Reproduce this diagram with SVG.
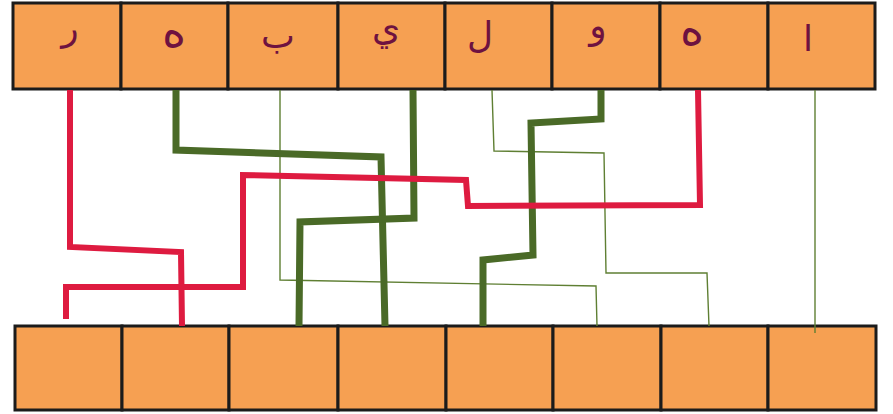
<svg xmlns="http://www.w3.org/2000/svg" width="893" height="414" viewBox="0 0 893 414">
<style>
.box{fill:#F6A052;stroke:#1b1b1b;stroke-width:3}
.lbl{font-family:"DejaVu Sans","Noto Sans",sans-serif;font-size:36px;fill:#6E1240;text-anchor:middle}
.big{font-size:46px}
.red{fill:none;stroke:#DE1B40;stroke-width:6;stroke-linejoin:miter}
.grn{fill:none;stroke:#4A6A27;stroke-width:7;stroke-linejoin:miter}
.thin{fill:none;stroke:#5F7F33;stroke-width:1.4}
</style>
<rect width="893" height="414" fill="#ffffff"/>
<g id="top-row">
<g id="t1"><rect class="box" x="13" y="3" width="108" height="86"/><text class="lbl" x="70" y="40">ر</text></g>
<g id="t2"><rect class="box" x="121" y="3" width="107" height="86"/><text class="lbl big" x="174" y="47">ه</text></g>
<g id="t3"><rect class="box" x="228" y="3" width="110" height="86"/><text class="lbl" x="278" y="48">ب</text></g>
<g id="t4"><rect class="box" x="338" y="3" width="107" height="86"/><text class="lbl" x="386" y="40">ي</text></g>
<g id="t5"><rect class="box" x="445" y="3" width="107" height="86"/><text class="lbl" x="480" y="47">ل</text></g>
<g id="t6"><rect class="box" x="552" y="3" width="108" height="86"/><text class="lbl" x="598" y="38">و</text></g>
<g id="t7"><rect class="box" x="660" y="3" width="108" height="86"/><text class="lbl big" x="692" y="45">ه</text></g>
<g id="t8"><rect class="box" x="768" y="3" width="107" height="86"/><text class="lbl" x="808" y="51">ا</text></g>
</g>
<g id="bottom-row">
<g id="b1"><rect class="box" x="15" y="326" width="107" height="84"/></g>
<g id="b2"><rect class="box" x="122" y="326" width="107" height="84"/></g>
<g id="b3"><rect class="box" x="229" y="326" width="109" height="84"/></g>
<g id="b4"><rect class="box" x="338" y="326" width="108" height="84"/></g>
<g id="b5"><rect class="box" x="446" y="326" width="107" height="84"/></g>
<g id="b6"><rect class="box" x="553" y="326" width="108" height="84"/></g>
<g id="b7"><rect class="box" x="661" y="326" width="107" height="84"/></g>
<g id="b8"><rect class="box" x="768" y="326" width="108" height="84"/></g>
</g>
<g id="connectors">
<path class="thin" d="M280,90 L280,280 L596,286 L597,326"/>
<path class="thin" d="M492,90 L494,151 L604,153 L606,273 L707,273 L709,326"/>
<path class="thin" d="M815,90 L815,333"/>
<path class="grn" d="M176,90 L176,150 L381,157 L385,326"/>
<path class="grn" d="M413,90 L414,218 L300,222 L299,326"/>
<path class="grn" d="M601,90 L601,119 L531,123 L533,255 L483,260 L483,326"/>
<path class="red" d="M70,90 L70,247 L181,252 L182,326"/>
<path class="red" d="M698,90 L700,205 L468,206 L466,180 L243,175 L243,287 L66,287 L66,319"/>
</g>
</svg>
